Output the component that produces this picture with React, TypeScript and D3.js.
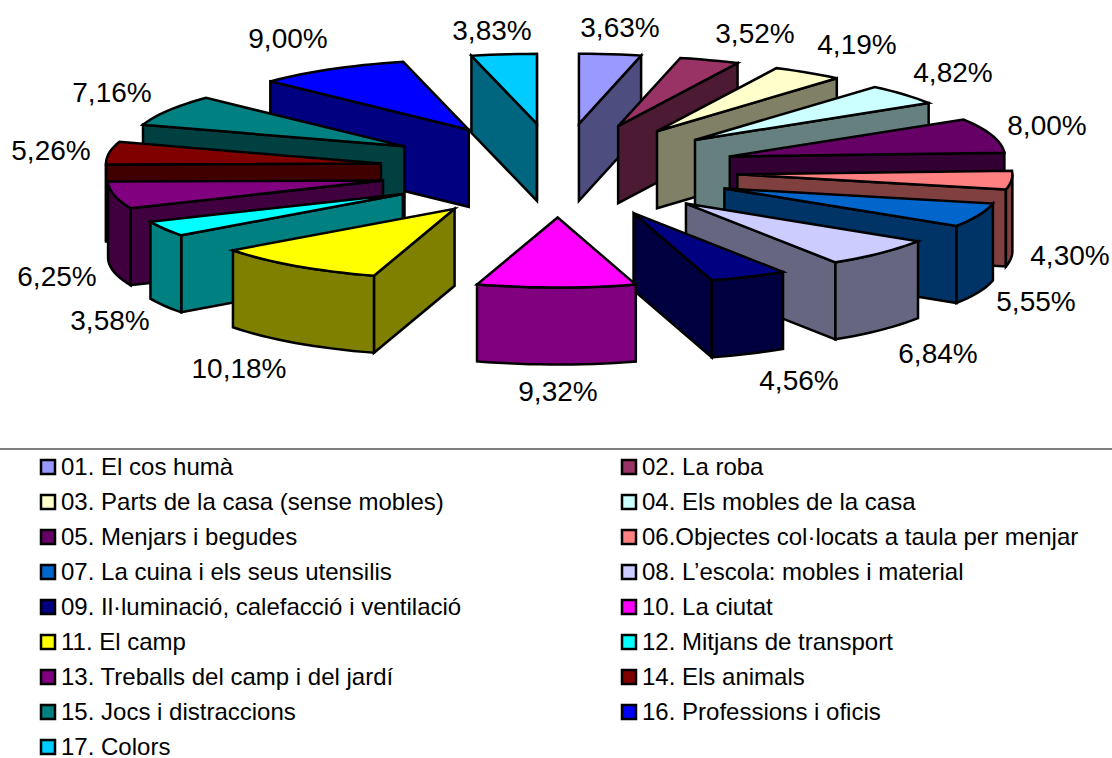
import React from "react";
import * as d3 from "d3";

const categories = [
  "01. El cos humà", "02. La roba", "03. Parts de la casa (sense mobles)", "04. Els mobles de la casa",
  "05. Menjars i begudes", "06.Objectes col·locats a taula per menjar", "07. La cuina i els seus utensilis",
  "08. L’escola: mobles i material", "09. Il·luminació, calefacció i ventilació", "10. La ciutat",
  "11. El camp", "12. Mitjans de transport", "13. Treballs del camp i del jardí", "14. Els animals",
  "15. Jocs i distraccions", "16. Professions i oficis", "17. Colors",
];
const values = [3.63, 3.52, 4.19, 4.82, 8.0, 4.3, 5.55, 6.84, 4.56, 9.32, 10.18, 3.58, 6.25, 5.26, 7.16, 9.0, 3.83];
const colors = [
  "#9999FF", "#993366", "#FFFFCC", "#CCFFFF", "#660066", "#FF8080", "#0066CC", "#CCCCFF", "#000080",
  "#FF00FF", "#FFFF00", "#00FFFF", "#800080", "#800000", "#008080", "#0000FF", "#00CCFF",
];
const labelCenters: [number, number][] = [
  [620, 27], [755, 33], [857, 44], [953, 72], [1047, 125], [1070, 255], [1036, 301], [938, 353], [799, 380],
  [558, 391], [239, 368], [110, 320], [57, 276], [51, 150], [112, 92], [288, 38], [492, 30],
];

const W = 1112, H = 758;
const CX = 558.5, CY = 170.5, RX = 275, RY = 70, EX = 179.5, EY = 47, DEPTH = 77;
const TAU = Math.PI * 2;
const FONT = "'Liberation Sans', Arial, sans-serif";

const arcs = d3.pie<number>().sort(null).startAngle(0).endAngle(TAU)(values);

const fmt = (v: number) => v.toFixed(2).replace(".", ",") + "%";
const lineGen = d3.line<[number, number]>();
const closed = (pts: [number, number][]) => lineGen(pts) + "Z";

function wallColor(c: string) {
  const r = d3.rgb(c);
  return d3.rgb(r.r * 0.5, r.g * 0.5, r.b * 0.5).formatHex();
}

function sliceFaces(a: d3.PieArcDatum<number>) {
  const mid = (a.startAngle + a.endAngle) / 2;
  const ax = CX + EX * Math.sin(mid);
  const ay = CY - EY * Math.cos(mid);
  const pt = (t: number, dz = 0): [number, number] => [ax + RX * Math.sin(t), ay - RY * Math.cos(t) + dz];
  const samples = (s: number, e: number) => {
    const n = Math.max(2, Math.ceil((e - s) / 0.04));
    return d3.range(n + 1).map((i) => s + ((e - s) * i) / n);
  };
  const apex: [number, number] = [ax, ay];
  const apexLow: [number, number] = [ax, ay + DEPTH];
  const faces: { d: string; kind: string }[] = [];
  if (Math.sin(a.startAngle) < 0) {
    faces.push({ kind: "wall", d: closed([apex, pt(a.startAngle), pt(a.startAngle, DEPTH), apexLow]) });
  }
  if (Math.sin(a.endAngle) > 0) {
    faces.push({ kind: "wall", d: closed([apex, pt(a.endAngle), pt(a.endAngle, DEPTH), apexLow]) });
  }
  const s = Math.max(a.startAngle, Math.PI / 2);
  const e = Math.min(a.endAngle, (3 * Math.PI) / 2);
  if (e > s) {
    const ts = samples(s, e);
    faces.push({ kind: "wall", d: closed([...ts.map((t) => pt(t)), ...ts.slice().reverse().map((t) => pt(t, DEPTH))]) });
  }
  const tsTop = samples(a.startAngle, a.endAngle);
  faces.push({ kind: "top", d: closed([apex, ...tsTop.map((t) => pt(t))]) });
  return faces;
}

const drawOrder = d3.range(values.length).sort(
  (i, j) => d3.ascending(
    -Math.cos((arcs[i].startAngle + arcs[i].endAngle) / 2),
    -Math.cos((arcs[j].startAngle + arcs[j].endAngle) / 2),
  ),
);

const legendY = d3.scaleLinear().domain([0, 8]).range([467, 747]);
const legendX = d3.scaleOrdinal<number, number>().domain([0, 1]).range([41, 622]);

export default function App() {
  return (
    <svg width={W} height={H} viewBox={`0 0 ${W} ${H}`} style={{ position: "absolute", left: 0, top: 0, background: "#fff" }}>
      {drawOrder.map((i) => (
        <g key={i}>
          {sliceFaces(arcs[i]).map((f, k) => (
            <path key={k} d={f.d} fill={f.kind === "top" ? colors[i] : wallColor(colors[i])} stroke="#000" strokeWidth={2.5} strokeLinejoin="miter" />
          ))}
        </g>
      ))}
      {values.map((v, i) => (
        <text key={i} x={labelCenters[i][0]} y={labelCenters[i][1]} dy="0.35em" textAnchor="middle" fontFamily={FONT} fontSize={28} fill="#000">
          {fmt(v)}
        </text>
      ))}
      <line x1={0} x2={W} y1={449} y2={449} stroke="#555" strokeWidth={1.5} />
      {categories.map((c, i) => {
        const col = i % 2;
        const row = Math.floor(i / 2);
        const x = legendX(col);
        const y = legendY(row);
        return (
          <g key={c}>
            <rect x={x} y={y - 7} width={14} height={14} fill={colors[i]} stroke="#000" strokeWidth={2.5} />
            <text x={x + 20} y={y} dy="0.35em" fontFamily={FONT} fontSize={24} fill="#000">{c}</text>
          </g>
        );
      })}
    </svg>
  );
}
